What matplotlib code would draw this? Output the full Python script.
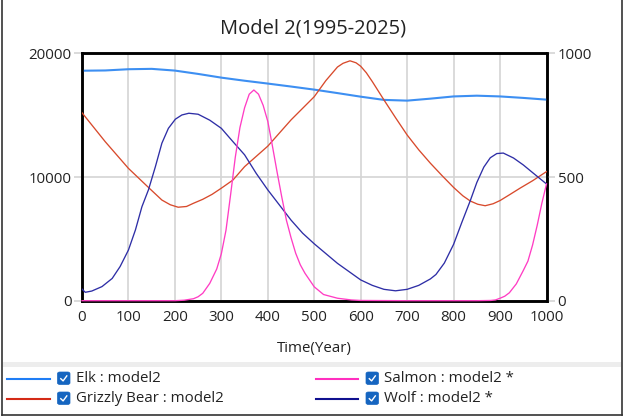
import matplotlib
matplotlib.use("Agg")
import matplotlib.pyplot as plt
from matplotlib.patches import FancyBboxPatch, Rectangle
from matplotlib.lines import Line2D

plt.rcParams['font.family'] = ['Open Sans', 'DejaVu Sans']

# ---------------- data ----------------
title = "Model 2(1995-2025)"
xlabel = "Time(Year)"

elk_x = [0, 50, 100, 150, 200, 250, 300, 350, 400, 450, 500, 550, 600, 650,
         700, 750, 800, 850, 900, 950, 1000]
elk_y = [18600, 18620, 18720, 18750, 18610, 18340, 18040, 17790, 17560, 17320,
         17070, 16790, 16500, 16240, 16180, 16340, 16520, 16580, 16520, 16400, 16260]

bear_x = [0, 50, 100, 147, 172, 190, 207, 225, 240, 260, 280, 300, 325, 350, 400,
          450, 500, 525, 550, 562, 577, 590, 600, 612, 625, 650, 675, 700, 725,
          750, 775, 800, 820, 836, 852, 868, 885, 900, 920, 943, 970, 1000]
bear_y = [760, 643, 535, 451, 407, 388, 378, 381, 394, 410, 430, 455, 488, 542, 625,
          731, 825, 890, 945, 960, 970, 962, 948, 922, 886, 812, 740, 670, 610,
          556, 506, 458, 424, 403, 390, 384, 392, 405, 428, 455, 485, 522]

salmon_x = [0, 100, 200, 220, 240, 250, 260, 275, 290, 300, 310, 320, 330, 340, 350,
            360, 370, 380, 390, 400, 410, 420, 430, 440, 450, 460, 470, 480, 500,
            520, 550, 580, 600, 700, 800, 850, 880, 890, 900, 910, 920, 935, 950,
            960, 970, 980, 990, 1000]
salmon_y = [0, 0, 0, 2, 8, 16, 30, 70, 128, 190, 285, 430, 580, 700, 780,
            835, 852, 835, 790, 725, 625, 520, 420, 326, 255, 192, 145, 111, 56,
            25, 10, 3, 1, 0, 0, 0, 1, 3, 10, 18, 32, 68, 122,
            160, 225, 305, 394, 472]

wolf_x = [0, 7, 21, 43, 65, 82, 100, 115, 129, 143, 158, 172, 186, 201, 215, 230,
          250, 275, 300, 325, 350, 375, 400, 425, 450, 475, 500, 550, 600, 625,
          650, 675, 700, 725, 750, 762, 780, 800, 818, 836, 850, 865, 879, 893,
          907, 929, 950, 972, 1000]
wolf_y = [47, 34, 39, 57, 90, 138, 205, 286, 380, 448, 542, 637, 697, 734, 751, 758,
          754, 730, 697, 643, 590, 515, 448, 387, 326, 273, 230, 151, 84, 62,
          46, 40, 46, 62, 88, 106, 152, 228, 318, 405, 478, 540, 578, 595,
          597, 577, 549, 515, 472]

legend_labels = ["Elk : model2", "Grizzly Bear : model2",
                 "Salmon : model2 *", "Wolf : model2 *"]

c_elk = '#3d8ff2'
c_bear = '#d84a2c'
c_salmon = '#ff3dc4'
c_wolf = '#2e2ea6'
leg_colors = ['#1f7df5', '#d42a16', '#ff2fbf', '#10108f']

# ---------------- figure ----------------
W, H = 624, 417
fig = plt.figure(figsize=(W / 100, H / 100), dpi=100)

def fx(px):
    return px / W

def fy(py):
    return 1 - py / H

ax = fig.add_axes([fx(82), fy(300.7), fx(546.5) - fx(82), fy(53.4) - fy(300.7)])
ax2 = ax.twinx()

ax.plot(elk_x, elk_y, color=c_elk, lw=1.5, zorder=3)
ax2.plot(bear_x, bear_y, color=c_bear, lw=0.95, zorder=3)
ax2.plot(wolf_x, wolf_y, color=c_wolf, lw=0.95, zorder=3)
ax2.plot(salmon_x, salmon_y, color=c_salmon, lw=0.95, zorder=4, clip_on=False)

ax.set_xlim(0, 1000)
ax.set_ylim(0, 20000)
ax2.set_ylim(0, 1000)
ax.set_xticks(range(0, 1001, 100))
ax.set_yticks([0, 10000, 20000])
ax2.set_yticks([0, 500, 1000])

ax.grid(True, color='#d4d4d4', lw=1.2)
ax.set_axisbelow(True)

for a in (ax, ax2):
    for s in a.spines.values():
        s.set_linewidth(1.8)
        s.set_color('black')

fs = 10.8
ax.tick_params(axis='x', length=0, pad=7, labelsize=fs, colors='#222222')
ax.tick_params(axis='y', length=6, width=1.2, color='#d4d4d4', pad=1.5,
               labelsize=fs, labelcolor='#222222')
ax2.tick_params(axis='y', length=6, width=1.2, color='#d4d4d4', pad=2,
                labelsize=fs, labelcolor='#222222')

ax.set_xlabel(xlabel, fontsize=fs, color='#222222', labelpad=11)
fig.text(fx(313), fy(28.5), title, ha='center', va='center', fontsize=14.5, color='#222222')

# ---------------- frame and legend band ----------------
fig.add_artist(Line2D([fx(2), fx(2)], [fy(0), fy(415)], color='#333333', lw=1.2))
fig.add_artist(Line2D([fx(621.5), fx(621.5)], [fy(0), fy(415)], color='#333333', lw=1.2))
fig.add_artist(Line2D([fx(2), fx(621.5)], [fy(415), fy(415)], color='#333333', lw=1.2))
fig.add_artist(Rectangle((fx(3), fy(367)), fx(618) - fx(0), fy(362) - fy(367),
                         transform=fig.transFigure, color='#ededed', lw=0))

rows = [378.5, 398.5]
cols = [(7, 50, 57.5, 76), (316, 358, 366, 384)]
entries = [(0, 0), (0, 1), (1, 0), (1, 1)]
for i, (ci, ri) in enumerate(entries):
    lx0, lx1, bx, tx = cols[ci]
    yy = rows[ri]
    fig.add_artist(Line2D([fx(lx0), fx(lx1)], [fy(yy), fy(yy)],
                          color=leg_colors[i], lw=1.5))
    box = FancyBboxPatch((fx(bx), fy(yy + 6)), fx(12.5), fy(0) - fy(12.5),
                         boxstyle="round,pad=0,rounding_size=0.004",
                         transform=fig.transFigure, facecolor='#1565c0',
                         edgecolor='#1565c0', lw=0.5)
    fig.add_artist(box)
    fig.add_artist(Line2D([fx(bx + 3.3), fx(bx + 5.6), fx(bx + 9.3)],
                          [fy(yy + 0.2), fy(yy + 2.4), fy(yy - 2.6)],
                          color='white', lw=1.0))
    fig.text(fx(tx), fy(yy), legend_labels[i], ha='left', va='center',
             fontsize=fs, color='#222222')

fig.savefig("out.png", dpi=100)
